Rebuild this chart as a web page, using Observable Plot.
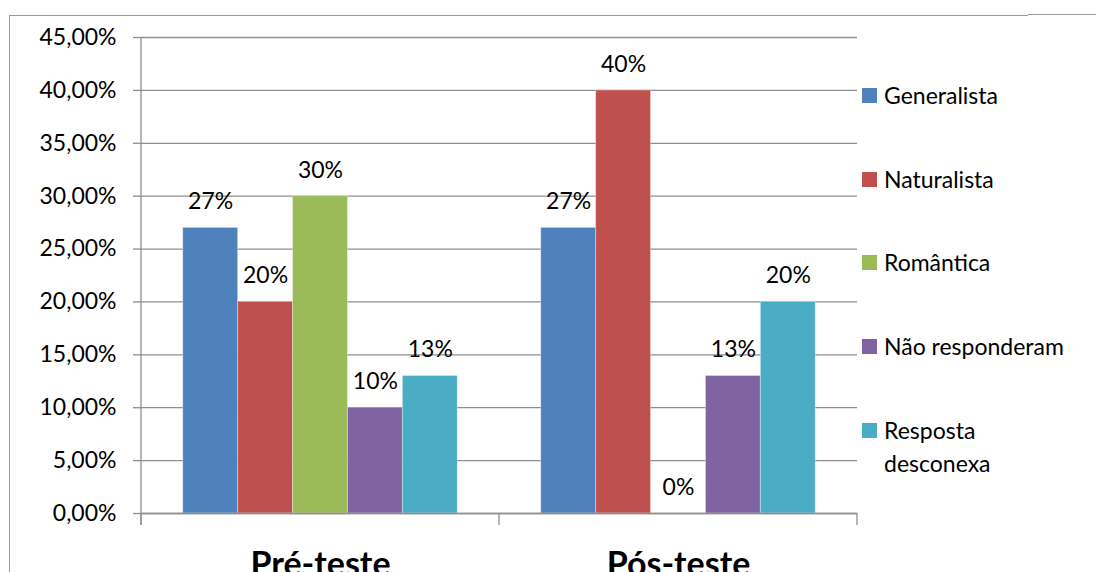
<!DOCTYPE html>
<html><head><meta charset="utf-8">
<script src="https://cdn.jsdelivr.net/npm/d3@7"></script>
<script src="https://cdn.jsdelivr.net/npm/@observablehq/plot@0.6"></script>
<style>
body{margin:0;background:#fff;font-family:Lato,sans-serif;}
#wrap{position:relative;width:1096px;height:572px;overflow:hidden;background:#fff;}
#wrap svg{position:absolute;left:0;top:0;}
.fl{position:absolute;left:9px;top:15px;width:0;height:600px;border-left:1.5px solid #9a9a9a;}
.ft{position:absolute;left:9px;top:15px;width:1019px;height:0;border-top:1.5px solid #9a9a9a;}
.ft2{position:absolute;left:1028px;top:14px;width:68px;height:0;border-top:1.5px solid #9a9a9a;}
#legend{position:absolute;left:862px;top:79px;}
.item{display:flex;align-items:flex-start;margin-bottom:50.7px;}
.sw{width:15px;height:15px;margin-top:9px;margin-right:7px;flex:none;}
.lb{font-size:23px;line-height:33px;width:200px;color:#000;}
</style></head><body>
<div id="wrap"><div class="fl"></div><div class="ft"></div><div class="ft2"></div><div id="legend"></div></div>
<script>
const groups = ["Pré-teste", "Pós-teste"];
const series = ["Generalista", "Naturalista", "Romântica", "Não responderam", "Resposta desconexa"];
const colors = ["#4F81BD", "#C0504D", "#9BBB59", "#8064A2", "#4BACC6"];
const preTeste = [0.27, 0.20, 0.30, 0.10, 0.13];
const posTeste = [0.27, 0.40, 0.00, 0.13, 0.20];
const yTicks = [0, 0.05, 0.10, 0.15, 0.20, 0.25, 0.30, 0.35, 0.40, 0.45];

const valuesByGroup = [preTeste, posTeste];
const rows = [];
groups.forEach((g, gi) => series.forEach((s, si) => rows.push({group: g, series: s, value: valuesByGroup[gi][si]})));

const axisColor = "#8f8f8f";
const plot = Plot.plot({
  width: 1096, height: 572,
  marginLeft: 141, marginRight: 239, marginTop: 37, marginBottom: 59,
  style: {fontFamily: "Lato, sans-serif", fontSize: "23px", color: "#000", background: "transparent", overflow: "visible"},
  fx: {domain: groups, paddingInner: 0, paddingOuter: 0, label: null, round: false},
  x: {domain: series, paddingInner: 0, paddingOuter: 0.76, axis: null, round: false},
  y: {domain: [0, 0.45], label: null},
  color: {domain: series, range: colors},
  marks: [
    Plot.gridY(yTicks, {stroke: axisColor, strokeOpacity: 1, strokeWidth: 1.3}),
    Plot.barY(rows, {fx: "group", x: "series", y: "value", fill: "series", stroke: "#ffffff", strokeOpacity: 0.35, strokeWidth: 1}),
    Plot.text(rows, {fx: "group", x: "series", y: "value", text: d => Math.round(d.value * 100) + "%", dy: -26, fontSize: 23, fill: "#000"}),
    Plot.ruleY([0], {stroke: axisColor, strokeWidth: 1.3}),
    Plot.axisY({ticks: yTicks, tickFormat: v => (v * 100).toFixed(2).replace(".", ",") + "%", tickSize: 8, tickPadding: 17, fontSize: 23, stroke: axisColor, strokeOpacity: 1, strokeWidth: 1.3}),
    Plot.axisFx({anchor: "bottom", tickSize: 0, tickPadding: 38, fontSize: 34, fontWeight: "bold", label: null})
  ]
});
document.getElementById("wrap").insertBefore(plot, document.getElementById("legend"));

// axis line and category boundary ticks, placed with the library's scales
const fx = plot.scale("fx"), y = plot.scale("y");
const svg = d3.select(plot);
const x0 = fx.apply(groups[0]);
svg.append("line").attr("x1", x0).attr("x2", x0).attr("y1", y.apply(0.45)).attr("y2", y.apply(0) + 12)
  .attr("stroke", axisColor).attr("stroke-width", 1.3);
const edges = groups.map(g => fx.apply(g)).concat([fx.apply(groups[groups.length - 1]) + fx.bandwidth]);
edges.forEach(e => svg.append("line").attr("x1", e).attr("x2", e).attr("y1", y.apply(0)).attr("y2", y.apply(0) + 12)
  .attr("stroke", axisColor).attr("stroke-width", 1.3));

// legend
const legend = d3.select("#legend");
series.forEach((s, i) => {
  const it = legend.append("div").attr("class", "item");
  it.append("div").attr("class", "sw").style("background", colors[i]);
  it.append("div").attr("class", "lb").text(s);
});
</script>
</body></html>
